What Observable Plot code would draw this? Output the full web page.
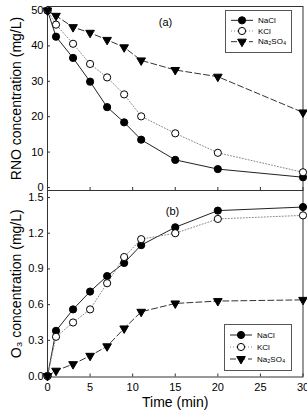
<!DOCTYPE html>
<html>
<head>
<meta charset="utf-8">
<script src="https://cdn.jsdelivr.net/npm/d3@7"></script>
<script src="https://cdn.jsdelivr.net/npm/@observablehq/plot@0.6"></script>
<style>
  body { margin: 0; background: #fff; }
  #chart { position: relative; width: 307px; height: 413px; overflow: hidden; font-family: "Liberation Sans", Arial, sans-serif; }
  #chart > svg { position: absolute; left: 0; overflow: visible; }
</style>
</head>
<body>
<div id="chart"></div>
<script>
// Sampling times (min)
const times = [0, 1, 3, 5, 7, 9, 11, 15, 20, 30];
const seriesNames = ["NaCl", "KCl", "Na₂SO₄"];

// (a) RNO concentration (mg/L)
const rnoNaCl   = [50, 42.6, 36.6, 29.9, 22.7, 18.4, 13.5, 7.8, 5.2, 2.9];
const rnoKCl    = [50, 46.0, 40.6, 34.9, 31.1, 26.3, 20.1, 15.3, 9.8, 4.3];
const rnoNa2SO4 = [50, 48.5, 45.3, 43.7, 41.7, 39.6, 35.9, 33.2, 31.3, 21.2];

// (b) O3 concentration (mg/L)
const o3NaCl   = [0, 0.38, 0.56, 0.71, 0.84, 0.95, 1.10, 1.25, 1.39, 1.42];
const o3KCl    = [0, 0.33, 0.45, 0.56, 0.78, 1.00, 1.15, 1.20, 1.32, 1.35];
const o3Na2SO4 = [0, 0.045, 0.10, 0.17, 0.25, 0.40, 0.54, 0.61, 0.63, 0.64];

// Tick labels
const timeTicks = [0, 5, 10, 15, 20, 25, 30];
const rnoTicks = [0, 10, 20, 30, 40, 50];
const o3Ticks = [0, 0.3, 0.6, 0.9, 1.2, 1.5];

const styles = {
  "NaCl":   { stroke: "#222", dash: null,  fill: "#000", symbol: "circle",   r: 3.6, rotate: 0 },
  "KCl":    { stroke: "#888", dash: "1,2", fill: "#fff", symbol: "circle",   r: 3.6, rotate: 0 },
  "Na₂SO₄": { stroke: "#333", dash: "6,3", fill: "#000", symbol: "triangle", r: 3.2, rotate: 180 }
};

function rows(values) {
  return seriesNames.flatMap((name, k) =>
    times.map((t, i) => ({ series: name, t, v: values[k][i] })));
}

const W = 307, ML = 47, MR = 4.5;
const chart = document.getElementById("chart");

function panel({ top, height, marginTop, marginBottom, domain, ticks, fmt, data, title, tag, tagDy, tagDx, showX }) {
  const fh = height - marginTop - marginBottom;
  const fw = W - ML - MR;
  const marks = [
    Plot.frame({ stroke: "#333" }),
    Plot.axisY(ticks, { tickSize: 0, tickPadding: 4, tickFormat: fmt, fontSize: 11, label: null }),
    Plot.tickY(ticks, { y: d => d, insetRight: fw - 3, stroke: "#333" }),
    Plot.tickX(timeTicks, { x: d => d, insetTop: fh - 3, stroke: "#333" })
  ];
  if (showX) {
    marks.push(Plot.axisX(timeTicks, { tickSize: 0, tickPadding: 6, fontSize: 11, label: null }));
    marks.push(Plot.text(["Time (min)"], { frameAnchor: "bottom", dy: 30, fontSize: 14 }));
  }
  for (const name of seriesNames) {
    const s = styles[name];
    const d = data.filter(r => r.series === name);
    marks.push(Plot.line(d, { x: "t", y: "v", stroke: s.stroke, strokeWidth: 1, strokeDasharray: s.dash }));
  }
  for (const name of seriesNames) {
    const s = styles[name];
    const d = data.filter(r => r.series === name);
    marks.push(Plot.dot(d, { x: "t", y: "v", symbol: s.symbol, r: s.r, rotate: s.rotate, fill: s.fill, stroke: "#000", strokeWidth: 1 }));
  }
  marks.push(Plot.text([title], { frameAnchor: "left", textAnchor: "middle", dx: -31, rotate: -90, fontSize: 14 }));
  marks.push(Plot.text([tag], { frameAnchor: "top-left", textAnchor: "middle", dx: tagDx, dy: tagDy, fontSize: 11 }));

  const svg = Plot.plot({
    width: W, height, marginTop, marginBottom, marginLeft: ML, marginRight: MR,
    style: { fontFamily: "Liberation Sans, Arial, sans-serif", fontSize: "11px", background: "transparent", overflow: "visible" },
    x: { domain: [0, 30], axis: null },
    y: { domain, axis: null },
    marks
  });
  svg.style.top = top + "px";
  chart.appendChild(svg);
}

function legend(left, top, w, h) {
  const svg = d3.select(chart).append("svg")
    .attr("width", w + 2).attr("height", h + 2)
    .style("left", left + "px").style("top", top + "px");
  svg.append("rect").attr("x", 0.5).attr("y", 0.5).attr("width", w).attr("height", h)
    .attr("fill", "#fff").attr("stroke", "#555");
  const step = (h - 10) / 3;
  seriesNames.forEach((name, i) => {
    const s = styles[name];
    const y = 5 + step * (i + 0.5);
    svg.append("line").attr("x1", 6).attr("x2", 28).attr("y1", y).attr("y2", y)
      .attr("stroke", s.stroke).attr("stroke-dasharray", s.dash);
    const sym = s.symbol === "circle" ? d3.symbolCircle : d3.symbolTriangle;
    svg.append("path").attr("d", d3.symbol(sym, Math.PI * s.r * s.r)())
      .attr("transform", `translate(17,${y}) rotate(${s.rotate})`)
      .attr("fill", s.fill).attr("stroke", "#000");
    svg.append("text").attr("x", 33).attr("y", y).attr("dy", "0.35em")
      .attr("font-size", 8).attr("font-family", "Liberation Sans, Arial, sans-serif").text(name);
  });
}

panel({
  top: 0, height: 191, marginTop: 6, marginBottom: 1,
  domain: [-0.85, 51.13], ticks: rnoTicks, fmt: d3.format("d"),
  data: rows([rnoNaCl, rnoKCl, rnoNa2SO4]),
  title: "RNO concentration (mg/L)", tag: "(a)", tagDx: 118, tagDy: 12, showX: false
});

panel({
  top: 189, height: 224, marginTop: 1, marginBottom: 36.5,
  domain: [-0.008, 1.559], ticks: o3Ticks, fmt: d3.format(".1f"),
  data: rows([o3NaCl, o3KCl, o3Na2SO4]),
  title: "O₃ concentration (mg/L)", tag: "(b)", tagDx: 125, tagDy: 17, showX: true
});

legend(225, 10, 66, 42);
legend(224, 324, 67, 46);
</script>
</body>
</html>
